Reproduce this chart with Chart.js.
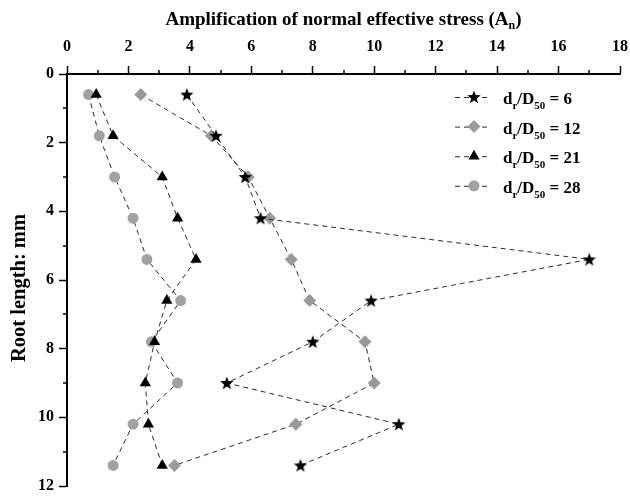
<!DOCTYPE html>
<html>
<head>
<meta charset="utf-8">
<script src="https://cdn.jsdelivr.net/npm/chart.js@4/dist/chart.umd.min.js"></script>
<style>
html,body{margin:0;padding:0;background:#fff;}
#wrap{width:630px;height:497px;position:relative;}
</style>
</head>
<body>
<div id="wrap"><canvas id="c" width="630" height="497"></canvas></div>
<script>
// ---- data ----
const rootLength = [0.6, 1.8, 3.0, 4.2, 5.4, 6.6, 7.8, 9.0, 10.2, 11.4];
const an6  = [3.9, 4.85, 5.8, 6.3, 17.0, 9.9, 8.0, 5.2, 10.8, 7.6];
const an12 = [2.4, 4.7, 5.9, 6.6, 7.3, 7.9, 9.7, 10.0, 7.45, 3.5];
const an21 = [0.95, 1.5, 3.1, 3.6, 4.2, 3.25, 2.85, 2.55, 2.65, 3.1];
const an28 = [0.7, 1.05, 1.55, 2.15, 2.6, 3.7, 2.75, 3.6, 2.15, 1.5];
const ratioLabels = ['6', '12', '21', '28'];
const xTitleMain = 'Amplification of normal effective stress (A';
const xTitleSub = 'n';
const xTitleEnd = ')';
const yTitle = 'Root length: mm';
const xMin = 0, xMax = 18, yMin = 0, yMax = 12;

const FONT = '"Liberation Serif", "Times New Roman", serif';

// filled five-point star as point style
function makeStar(r, color) {
  const s = Math.ceil(r * 2 + 2);
  const cv = document.createElement('canvas');
  cv.width = s; cv.height = s;
  const g = cv.getContext('2d');
  g.fillStyle = color;
  g.beginPath();
  const cx = s / 2, cy = s / 2 + 0.5;
  for (let i = 0; i < 10; i++) {
    const rad = i % 2 === 0 ? r : r * 0.42;
    const a = -Math.PI / 2 + i * Math.PI / 5;
    const px = cx + rad * Math.cos(a), py = cy + rad * Math.sin(a);
    if (i === 0) g.moveTo(px, py); else g.lineTo(px, py);
  }
  g.closePath();
  g.fill();
  return cv;
}
const starImg = makeStar(7, '#000');

const pts = arr => arr.map((v, i) => ({ x: v, y: rootLength[i] }));

const lineColor = '#2a2a2a';
const dash = [5, 4];
const seriesStyle = [
  { data: an6,  pointStyle: starImg,   color: '#000',    radius: 7 },
  { data: an12, pointStyle: 'rectRot', color: '#9a9a9a', radius: 6.5 },
  { data: an21, pointStyle: 'triangle', color: '#000',   radius: 6.5 },
  { data: an28, pointStyle: 'circle',  color: '#a2a2a2', radius: 5.5 }
];

const datasets = seriesStyle.map((s, i) => ({
  label: 'dr/D50 = ' + ratioLabels[i],
  data: pts(s.data),
  showLine: true,
  borderColor: lineColor,
  borderWidth: 1,
  borderDash: dash,
  pointStyle: s.pointStyle,
  pointRadius: s.radius,
  pointHoverRadius: s.radius,
  pointBackgroundColor: s.color,
  pointBorderColor: s.color,
  pointBorderWidth: 0,
  tension: 0
}));

function drawRichText(ctx, parts, x, y) {
  let cx = x;
  parts.forEach(p => {
    ctx.font = 'bold ' + p.size + 'px ' + FONT;
    ctx.fillText(p.t, cx, y + (p.dy || 0));
    cx += ctx.measureText(p.t).width;
  });
  return cx - x;
}
function measureRich(ctx, parts) {
  let w = 0;
  parts.forEach(p => { ctx.font = 'bold ' + p.size + 'px ' + FONT; w += ctx.measureText(p.t).width; });
  return w;
}

const decor = {
  id: 'decor',
  afterDraw(chart) {
    const ctx = chart.ctx;
    const xs = chart.scales.x, ys = chart.scales.y;
    const ca = chart.chartArea;
    ctx.save();
    // minor ticks
    ctx.strokeStyle = '#000';
    ctx.lineWidth = 1.5;
    ctx.beginPath();
    for (let v = xMin + 1; v < xMax; v += 2) {
      const px = Math.round(xs.getPixelForValue(v));
      ctx.moveTo(px, ca.top); ctx.lineTo(px, ca.top - 4);
    }
    for (let v = yMin + 1; v < yMax; v += 2) {
      const py = Math.round(ys.getPixelForValue(v));
      ctx.moveTo(ca.left, py); ctx.lineTo(ca.left - 4, py);
    }
    ctx.stroke();

    ctx.fillStyle = '#000';
    ctx.textBaseline = 'alphabetic';
    ctx.textAlign = 'left';
    // x title
    const xt = [
      { t: xTitleMain, size: 19 },
      { t: xTitleSub, size: 12, dy: 4 },
      { t: xTitleEnd, size: 19 }
    ];
    const w = measureRich(ctx, xt);
    drawRichText(ctx, xt, (ca.left + ca.right) / 2 - w / 2, 25);

    // y title
    ctx.save();
    ctx.translate(25, 288);
    ctx.rotate(-Math.PI / 2);
    ctx.font = 'bold 20.5px ' + FONT;
    ctx.textAlign = 'center';
    ctx.fillText(yTitle, 0, 0);
    ctx.restore();

    // legend
    const lx0 = 455, lx1 = 490, mx = 474, tx = 503;
    seriesStyle.forEach((s, i) => {
      const ly = 97 + i * 29.6;
      ctx.save();
      ctx.strokeStyle = lineColor;
      ctx.lineWidth = 1;
      ctx.setLineDash(dash);
      ctx.beginPath();
      ctx.moveTo(lx0, ly + 0.5); ctx.lineTo(lx1, ly + 0.5);
      ctx.stroke();
      ctx.restore();
      ctx.fillStyle = s.color;
      ctx.strokeStyle = s.color;
      Chart.helpers.drawPoint(ctx, { pointStyle: s.pointStyle, radius: s.radius, rotation: 0, borderWidth: 0 }, mx, ly);
      ctx.fillStyle = '#000';
      drawRichText(ctx, [
        { t: 'd', size: 17 },
        { t: 'r', size: 11, dy: 5 },
        { t: '/D', size: 17 },
        { t: '50', size: 11, dy: 5 },
        { t: ' = ' + ratioLabels[i], size: 17 }
      ], tx, ly + 7);
    });
    ctx.restore();
  }
};

const tickFont = { family: FONT, size: 16, weight: 'bold' };

new Chart(document.getElementById('c'), {
  type: 'scatter',
  data: { datasets },
  options: {
    responsive: false,
    devicePixelRatio: 1,
    animation: false,
    events: [],
    layout: { padding: { left: 0, right: 10, top: 0, bottom: 11 } },
    plugins: { legend: { display: false }, tooltip: { enabled: false }, title: { display: false } },
    scales: {
      x: {
        type: 'linear',
        position: 'top',
        min: xMin, max: xMax,
        afterFit(scale) { scale.height = 74; scale.paddingLeft = 0; scale.paddingRight = 0; },
        ticks: {
          stepSize: 1,
          autoSkip: false,
          maxRotation: 0,
          padding: 10,
          color: '#000',
          font: tickFont,
          callback: v => (v % 2 === 0 ? String(v) : '')
        },
        grid: {
          drawOnChartArea: false,
          drawTicks: true,
          tickLength: 8,
          tickWidth: 1.5,
          tickColor: c => (c.tick && c.tick.value % 2 === 0 ? '#000' : 'rgba(0,0,0,0)')
        },
        border: { display: true, color: '#000', width: 2 }
      },
      y: {
        type: 'linear',
        reverse: true,
        min: yMin, max: yMax,
        afterFit(scale) { scale.width = 67; scale.paddingTop = 0; scale.paddingBottom = 0; },
        ticks: {
          stepSize: 1,
          autoSkip: false,
          padding: 5,
          color: '#000',
          font: tickFont,
          callback: v => (v % 2 === 0 ? String(v) : '')
        },
        grid: {
          drawOnChartArea: false,
          drawTicks: true,
          tickLength: 8,
          tickWidth: 1.5,
          tickColor: c => (c.tick && c.tick.value % 2 === 0 ? '#000' : 'rgba(0,0,0,0)')
        },
        border: { display: true, color: '#000', width: 2 }
      }
    }
  },
  plugins: [decor]
});
</script>
</body>
</html>
